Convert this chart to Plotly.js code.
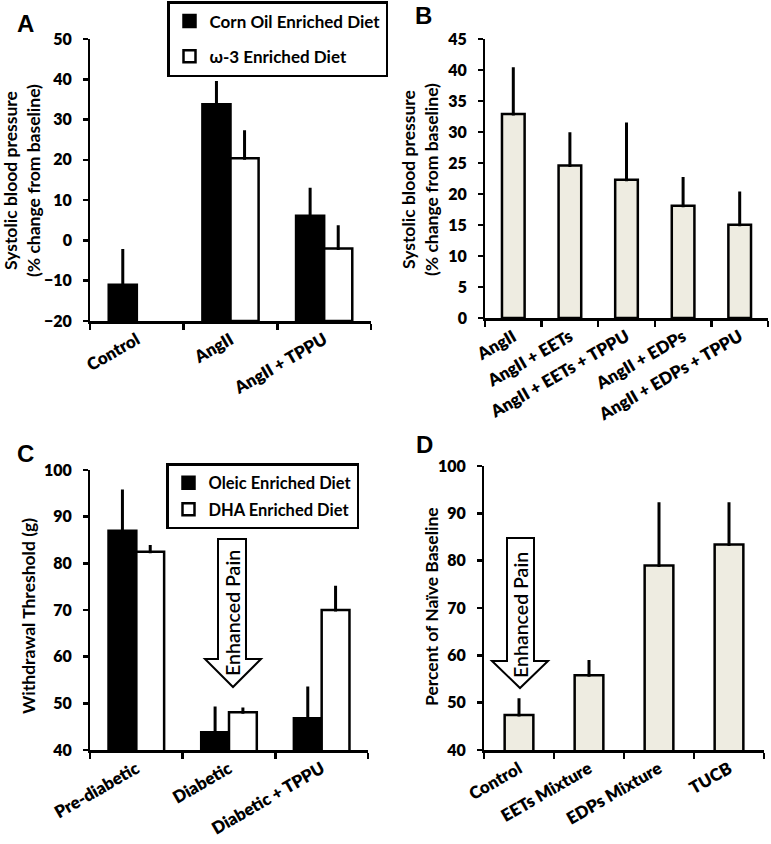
<!DOCTYPE html>
<html>
<head>
<meta charset="utf-8">
<script src="https://cdn.plot.ly/plotly-3.0.1.min.js"></script>
<style>
  html, body { margin: 0; padding: 0; background: #fff; }
  #fig { width: 771px; height: 844px; }
</style>
</head>
<body>
<div id="fig"></div>
<script>
// panel A - blood pressure, diet comparison
const catsA = ['Control', 'AngII', 'AngII + TPPU'];
const cornOil = [-11, 33.8, 6.1];
const cornOilErr = [8.5, 5.4, 6.6];
const omega3 = [null, 20.4, -2];
const omega3Err = [null, 6.6, 5.4];

// panel B - blood pressure, lipid mixtures
const catsB = ['AngII', 'AngII + EETs', 'AngII + EETs + TPPU', 'AngII + EDPs', 'AngII + EDPs + TPPU'];
const bpB = [32.9, 24.6, 22.3, 18.1, 15.05];
const bpBErr = [7.3, 5.1, 9, 4.4, 5.1];

// panel C - withdrawal threshold
const catsC = ['Pre-diabetic', 'Diabetic', 'Diabetic + TPPU'];
const oleic = [87, 43.8, 46.8];
const oleicErr = [8.5, 5.2, 6.5];
const dha = [82.5, 48.1, 70];
const dhaErr = [1.1, 0.7, 4.9];

// panel D - percent of naive baseline
const catsD = ['Control', 'EETs Mixture', 'EDPs Mixture', 'TUCB'];
const pctD = [47.4, 55.8, 79, 83.4];
const pctDErr = [3.2, 2.9, 13, 8.6];

const W = 771, H = 844;
// pixel -> paper helpers (margins are zero)
const px = x => x / W;
const py = y => 1 - y / H;

const FONT = 'Lato, "Open Sans", sans-serif';
const boldFont = (size, weight) => ({family: FONT, size: size, color: '#000', weight: weight || 800});
const beige = '#eeece1';

// bars in A grow up from the bottom of the axis, not from zero
const floorA = -20;
const fromFloor = arr => arr.map(v => v === null ? null : v - floorA);

function errUp(arr) {
    return {type: 'data', symmetric: false, array: arr, arrayminus: arr.map(() => 0),
            color: '#000', thickness: 3, width: 1.5};
}

let traces = [
    {
        x: catsA, y: fromFloor(cornOil), base: floorA, type: 'bar', name: 'Corn Oil Enriched Diet',
        xaxis: 'x', yaxis: 'y', width: 0.3, offset: -0.3,
        marker: {color: '#000', line: {color: '#000', width: 2.5}},
        error_y: errUp(cornOilErr), legend: 'legend', legendgroup: 'a1'
    },
    {
        x: catsA, y: fromFloor(omega3), base: floorA, type: 'bar', name: 'ω-3 Enriched Diet',
        xaxis: 'x', yaxis: 'y', width: 0.3, offset: 0,
        marker: {color: '#fff', line: {color: '#000', width: 2.5}},
        error_y: errUp(omega3Err), legend: 'legend', legendgroup: 'a2'
    },
    {
        x: catsB, y: bpB, type: 'bar', name: 'B', showlegend: false,
        xaxis: 'x2', yaxis: 'y2', width: 0.4,
        marker: {color: beige, line: {color: '#000', width: 2.5}},
        error_y: errUp(bpBErr)
    },
    {
        x: catsC, y: oleic, type: 'bar', name: 'Oleic Enriched Diet',
        xaxis: 'x3', yaxis: 'y3', width: 0.3, offset: -0.3,
        marker: {color: '#000', line: {color: '#000', width: 2.5}},
        error_y: errUp(oleicErr), legend: 'legend2', legendgroup: 'c1'
    },
    {
        x: catsC, y: dha, type: 'bar', name: 'DHA Enriched Diet',
        xaxis: 'x3', yaxis: 'y3', width: 0.3, offset: 0,
        marker: {color: '#fff', line: {color: '#000', width: 2.5}},
        error_y: errUp(dhaErr), legend: 'legend2', legendgroup: 'c2'
    },
    {
        x: catsD, y: pctD, type: 'bar', name: 'D', showlegend: false,
        xaxis: 'x4', yaxis: 'y4', width: 0.41,
        marker: {color: beige, line: {color: '#000', width: 2.5}},
        error_y: errUp(pctDErr)
    }
];

function xAxis(domain, anchor) {
    return {
        domain: domain, anchor: anchor, type: 'category',
        showline: true, linecolor: '#000', linewidth: 2.5,
        ticks: 'outside', tickson: 'boundaries', ticklen: 6, tickwidth: 2.5, tickcolor: '#000',
        tickangle: -30, tickfont: boldFont(17, 800),
        showgrid: false, zeroline: false, fixedrange: true
    };
}

// no-break spaces push the tick numbers away from the axis like the original
const GAP = '\u00a0\u00a0';

function yAxis(domain, anchor, range, dtick) {
    return {
        domain: domain, anchor: anchor, range: range, dtick: dtick,
        showline: true, linecolor: '#000', linewidth: 2.5,
        ticks: 'outside', ticklen: 5, tickwidth: 2.5, tickcolor: '#000',
        tickfont: boldFont(16), ticksuffix: GAP,
        showgrid: false, zeroline: false, fixedrange: true
    };
}

// down arrows marking enhanced pain
function arrowPath(left, right, headL, headR, top, headY, tipY) {
    const tipX = (headL + headR) / 2;
    const pts = [[left, top], [right, top], [right, headY], [headR, headY],
                 [tipX, tipY], [headL, headY], [left, headY]];
    return 'M' + pts.map(p => px(p[0]) + ',' + py(p[1])).join(' L') + ' Z';
}

let shapes = [
    {type: 'path', xref: 'paper', yref: 'paper', path: arrowPath(218, 246, 205, 261, 539, 659, 687),
     line: {color: '#000', width: 2}, fillcolor: '#fff'},
    {type: 'path', xref: 'paper', yref: 'paper', path: arrowPath(507, 534, 492, 548, 538, 661, 688),
     line: {color: '#000', width: 2}, fillcolor: '#fff'}
];

function letter(t, x, y) {
    return {text: t, x: px(x), y: py(y), xref: 'paper', yref: 'paper', showarrow: false,
            xanchor: 'center', yanchor: 'middle',
            font: {family: 'Liberation Sans, Arial, sans-serif', size: 24, color: '#000', weight: 'bold'}};
}

function painLabel(x, y) {
    return {text: 'Enhanced Pain', x: px(x), y: py(y), xref: 'paper', yref: 'paper', showarrow: false,
            textangle: -90, xanchor: 'center', yanchor: 'middle',
            font: {family: FONT, size: 19.5, color: '#000', weight: 600}};
}

// y-axis titles, placed by hand so they sit where the original has them
function yTitle(text, x, y) {
    return {text: text, x: px(x), y: py(y), xref: 'paper', yref: 'paper', showarrow: false,
            textangle: -90, xanchor: 'center', yanchor: 'middle',
            font: boldFont(17.5, 700)};
}

let layout = {
    width: W, height: H,
    margin: {l: 0, r: 0, t: 0, b: 0},
    paper_bgcolor: '#fff', plot_bgcolor: '#fff',
    barmode: 'overlay',
    xaxis: xAxis([px(90), px(371)], 'y'),
    yaxis: yAxis([py(321), py(39)], 'x', [-20, 50], 10),
    xaxis2: xAxis([px(485), px(768)], 'y2'),
    yaxis2: yAxis([py(318), py(39)], 'x2', [0, 45], 5),
    xaxis3: xAxis([px(90), px(368)], 'y3'),
    yaxis3: yAxis([py(750), py(470)], 'x3', [40, 100], 10),
    xaxis4: xAxis([px(484), px(764)], 'y4'),
    yaxis4: yAxis([py(750), py(466)], 'x4', [40, 100], 10),
    legend: {
        x: px(167), y: py(1), xanchor: 'left', yanchor: 'top',
        bordercolor: '#000', borderwidth: 2.5, bgcolor: '#fff',
        font: boldFont(17, 700), traceorder: 'grouped', tracegroupgap: 10,
        itemclick: false, itemdoubleclick: false
    },
    legend2: {
        x: px(166), y: py(463), xanchor: 'left', yanchor: 'top',
        bordercolor: '#000', borderwidth: 2.5, bgcolor: '#fff',
        font: boldFont(16.5, 700), traceorder: 'grouped', tracegroupgap: 2,
        itemclick: false, itemdoubleclick: false
    },
    shapes: shapes,
    annotations: [
        letter('A', 25, 24), letter('B', 423, 15),
        letter('C', 25, 453), letter('D', 424, 444),
        painLabel(232, 613), painLabel(520, 615),
        yTitle('Systolic blood pressure<br>(% change from baseline)', 22, 181),
        yTitle('Systolic blood pressure<br>(% change from baseline)', 420, 179),
        yTitle('Withdrawal Threshold (g)', 28, 616),
        yTitle('Percent of Naïve Baseline', 431, 607)
    ]
};

Plotly.newPlot('fig', traces, layout, {displayModeBar: false, staticPlot: true});
</script>
</body>
</html>
